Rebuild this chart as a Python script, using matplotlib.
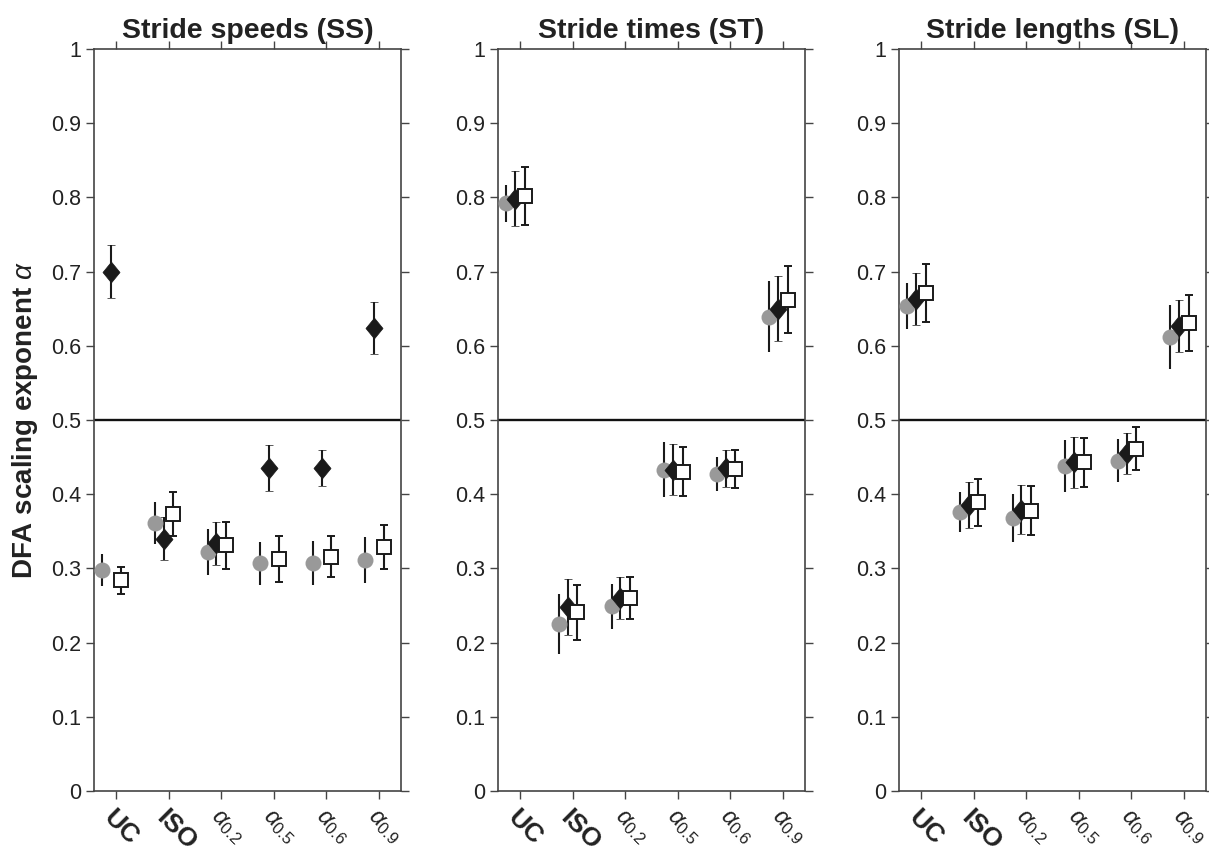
import numpy as np
import matplotlib
matplotlib.use("Agg")
import matplotlib.pyplot as plt
from matplotlib.ticker import FuncFormatter

plt.rcParams['font.family'] = ['Liberation Sans', 'DejaVu Sans']
plt.rcParams['mathtext.fontset'] = 'custom'
plt.rcParams['mathtext.rm'] = 'Liberation Sans'
plt.rcParams['mathtext.it'] = 'Liberation Sans:italic'

categories = ["UC", "ISO", r"$\alpha_{0.2}$", r"$\alpha_{0.5}$", r"$\alpha_{0.6}$", r"$\alpha_{0.9}$"]
titles = ["Stride speeds (SS)", "Stride times (ST)", "Stride lengths (SL)"]

# stride speeds
ss_circle = [0.298, 0.361, 0.322, 0.307, 0.307, 0.311]
ss_circle_err = [0.022, 0.028, 0.031, 0.029, 0.030, 0.031]
ss_diamond = [0.700, 0.340, 0.334, 0.435, 0.435, 0.624]
ss_diamond_err = [0.036, 0.029, 0.029, 0.031, 0.024, 0.035]
ss_square = [0.284, 0.373, 0.331, 0.312, 0.316, 0.329]
ss_square_err = [0.018, 0.030, 0.032, 0.031, 0.028, 0.030]

# stride times
st_circle = [0.792, 0.225, 0.249, 0.433, 0.427, 0.639]
st_circle_err = [0.025, 0.041, 0.030, 0.037, 0.023, 0.048]
st_diamond = [0.798, 0.248, 0.260, 0.433, 0.435, 0.650]
st_diamond_err = [0.037, 0.038, 0.028, 0.034, 0.025, 0.044]
st_square = [0.802, 0.241, 0.260, 0.430, 0.434, 0.662]
st_square_err = [0.039, 0.037, 0.028, 0.033, 0.025, 0.045]

# stride lengths
sl_circle = [0.653, 0.376, 0.368, 0.438, 0.445, 0.612]
sl_circle_err = [0.031, 0.027, 0.032, 0.035, 0.029, 0.043]
sl_diamond = [0.663, 0.385, 0.379, 0.443, 0.455, 0.627]
sl_diamond_err = [0.035, 0.031, 0.033, 0.034, 0.028, 0.035]
sl_square = [0.671, 0.389, 0.378, 0.443, 0.461, 0.631]
sl_square_err = [0.039, 0.032, 0.033, 0.033, 0.029, 0.038]

panels = [
    [(ss_circle, ss_circle_err), (ss_diamond, ss_diamond_err), (ss_square, ss_square_err)],
    [(st_circle, st_circle_err), (st_diamond, st_diamond_err), (st_square, st_square_err)],
    [(sl_circle, sl_circle_err), (sl_diamond, sl_diamond_err), (sl_square, sl_square_err)],
]

W, H = 1209, 858
fig = plt.figure(figsize=(W / 100, H / 100), dpi=100)

lefts = [94, 498, 899]
ax_w = 307
ax_bottom = 858 - 791
ax_h = 742

diamond = [(0, 1), (0.82, 0), (0, -1), (-0.82, 0), (0, 1)]
styles = [
    dict(marker="o", ms=11.5, mfc="#999999", mec="#999999", mew=0),
    dict(marker=diamond, ms=15, mfc="#1a1a1a", mec="#1a1a1a", mew=0.5),
    dict(marker="s", ms=10, mfc="white", mec="#1a1a1a", mew=1.4),
]
offsets = [-0.26, -0.09, 0.09]
spine_col = "#444444"
text_col = "#222222"

x = np.arange(1, len(categories) + 1)

for i, (left, title, series) in enumerate(zip(lefts, titles, panels)):
    ax = fig.add_axes([left / W, ax_bottom / H, ax_w / W, ax_h / H])
    ax.axhline(0.5, color="#111111", lw=1.7, zorder=1)
    for (means, errs), off, st in zip(series, offsets, styles):
        ax.errorbar(x + off, means, yerr=errs, linestyle="none",
                    ecolor="#1a1a1a", elinewidth=1.5, capsize=3, capthick=2,
                    zorder=3, **st)
    ax.set_xlim(0.58, 6.42)
    ax.set_ylim(0, 1)
    ax.set_yticks(np.arange(0, 1.01, 0.1))
    ax.yaxis.set_major_formatter(FuncFormatter(lambda v, p: "%g" % round(v, 1)))
    ax.set_xticks(x)
    ax.set_xticklabels(categories)
    for sp in ax.spines.values():
        sp.set_color(spine_col)
        sp.set_linewidth(1.2)
    ax.tick_params(axis="both", direction="out", length=5.5, width=1.0,
                   color=spine_col, labelsize=15.5, labelcolor=text_col,
                   top=True, right=True, pad=4)
    ax.tick_params(axis="x", pad=5)
    for lab in ax.get_xticklabels():
        lab.set_rotation(-45)
        lab.set_rotation_mode("anchor")
        lab.set_ha("left")
        lab.set_va("top")
        if lab.get_text() in ("UC", "ISO"):
            lab.set_fontweight("bold")
            lab.set_fontsize(19)
        else:
            lab.set_fontsize(17)
    ax.set_title(title, fontsize=20.5, fontweight="bold", color=text_col, pad=8)
    if i == 0:
        ax.set_ylabel(r"DFA scaling exponent $\alpha$", fontsize=20,
                      fontweight="bold", color=text_col, labelpad=8)

fig.savefig("out.png", dpi=100)
